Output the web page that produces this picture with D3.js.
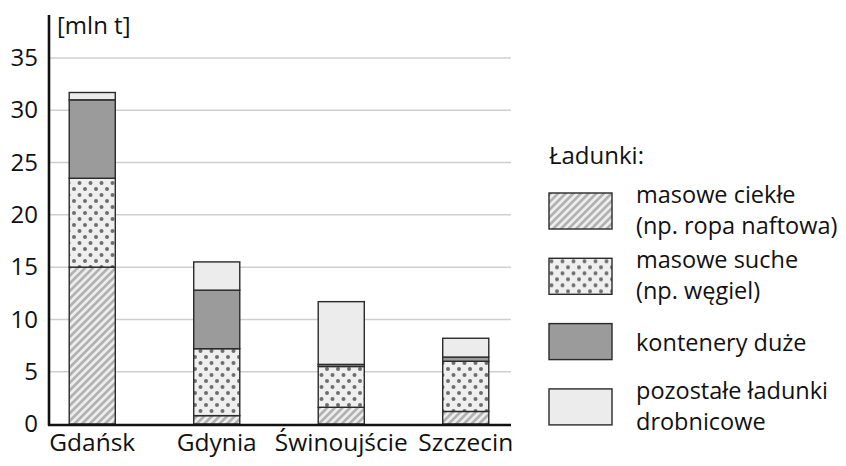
<!DOCTYPE html>
<html>
<head>
<meta http-equiv="Content-Type" content="text/html;charset=utf-8"/>
<script src="https://d3js.org/d3.v7.min.js"></script>
<style type="text/css">
body {
  margin: 0;
  background: #fff;
}
text {
  font-family: "Open Sans", sans-serif;
  fill: #111;
}
.grid line {
  stroke: #cfcfcf;
  stroke-width: 1.5px;
}
.seg {
  stroke: #2a2a2a;
  stroke-width: 1.4px;
}
</style>
</head>
<body>
<script>

var width = 846, height = 466;

// ports and cargo groups, values in mln t
var ports = ["Gdańsk", "Gdynia", "Świnoujście", "Szczecin"];
var cargo = ["ciekle", "suche", "kontenery", "pozostale"];
var ciekle    = [15.0, 0.8, 1.6, 1.2];
var suche     = [8.5, 6.4, 3.9, 4.8];
var kontenery = [7.5, 5.6, 0.2, 0.4];
var pozostale = [0.7, 2.7, 6.0, 1.8];
var yTicks = [0, 5, 10, 15, 20, 25, 30, 35];
var legendLines = [
  ["masowe ciekłe", "(np. ropa naftowa)"],
  ["masowe suche", "(np. węgiel)"],
  ["kontenery duże"],
  ["pozostałe ładunki", "drobnicowe"]
];

var rows = ports.map(function(p, i) {
  return {port: p, ciekle: ciekle[i], suche: suche[i], kontenery: kontenery[i], pozostale: pozostale[i]};
});

var svg = d3.select("body").append("svg")
    .attr("width", width)
    .attr("height", height);

var defs = svg.append("defs");

// hatched fill
var hatch = defs.append("pattern")
    .attr("id", "hatch")
    .attr("patternUnits", "userSpaceOnUse")
    .attr("width", 5.4)
    .attr("height", 5.4)
    .attr("patternTransform", "rotate(45)");
hatch.append("rect").attr("width", 5.4).attr("height", 5.4).attr("fill", "#ededed");
hatch.append("rect").attr("width", 2.6).attr("height", 5.4).attr("fill", "#b0b0b0");

// dotted fill
var dots = defs.append("pattern")
    .attr("id", "dots")
    .attr("patternUnits", "userSpaceOnUse")
    .attr("width", 11)
    .attr("height", 12);
dots.append("rect").attr("width", 11).attr("height", 12).attr("fill", "#efefef");
dots.append("circle").attr("cx", 2.5).attr("cy", 3).attr("r", 2).attr("fill", "#6e6e6e");
dots.append("circle").attr("cx", 8).attr("cy", 9).attr("r", 2).attr("fill", "#6e6e6e");

var fills = {
  ciekle: "url(#hatch)",
  suche: "url(#dots)",
  kontenery: "#9b9b9b",
  pozostale: "#ececec"
};

var x = d3.scaleBand()
    .domain(ports)
    .range([30, 528])
    .paddingInner(0.63)
    .paddingOuter(0.315);

var y = d3.scaleLinear()
    .domain([0, 35])
    .range([424, 58]);

// gridlines
svg.append("g")
    .attr("class", "grid")
    .selectAll("line")
    .data(yTicks.filter(function(d) { return d > 0; }))
    .enter().append("line")
    .attr("x1", 50)
    .attr("x2", 511)
    .attr("y1", function(d) { return y(d); })
    .attr("y2", function(d) { return y(d); });

// stacked bars
var stacked = d3.stack().keys(cargo)(rows);

svg.append("g")
    .selectAll("g")
    .data(stacked)
    .enter().append("g")
    .attr("fill", function(d) { return fills[d.key]; })
    .selectAll("rect")
    .data(function(d) { return d; })
    .enter().append("rect")
    .attr("class", "seg")
    .attr("x", function(d) { return x(d.data.port); })
    .attr("width", x.bandwidth())
    .attr("y", function(d) { return y(d[1]); })
    .attr("height", function(d) { return y(d[0]) - y(d[1]); });

// y axis
var yAxis = svg.append("g")
    .attr("transform", "translate(49,0)")
    .call(d3.axisLeft(y).tickValues(yTicks).tickSize(0).tickPadding(11));
yAxis.select(".domain").remove();
yAxis.selectAll("text")
    .style("font-size", "24px")
    .attr("fill", "#111");

svg.append("line")
    .attr("x1", 49).attr("x2", 49)
    .attr("y1", 15).attr("y2", 425.5)
    .attr("stroke", "#111")
    .attr("stroke-width", 2.6);

// x axis
var xAxis = svg.append("g")
    .attr("transform", "translate(0,425)")
    .call(d3.axisBottom(x).tickSize(0).tickPadding(9));
xAxis.select(".domain").remove();
xAxis.selectAll("text")
    .style("font-size", "24.5px")
    .attr("fill", "#111");

svg.append("line")
    .attr("x1", 48).attr("x2", 511)
    .attr("y1", 425).attr("y2", 425)
    .attr("stroke", "#111")
    .attr("stroke-width", 2.6);

svg.append("text")
    .attr("x", 57)
    .attr("y", 34)
    .style("font-size", "24px")
    .text("[mln t]");

// legend
var legend = svg.append("g").attr("transform", "translate(549,0)");

legend.append("text")
    .attr("x", 0)
    .attr("y", 164)
    .style("font-size", "24px")
    .text("Ładunki:");

var item = legend.selectAll(".item")
    .data(cargo)
    .enter().append("g")
    .attr("class", "item")
    .attr("transform", function(d, i) { return "translate(0," + (193 + i * 65.3) + ")"; });

item.append("rect")
    .attr("class", "seg")
    .attr("width", 63)
    .attr("height", 36)
    .attr("fill", function(d) { return fills[d]; });

item.each(function(d, i) {
  var lines = legendLines[i];
  var t = d3.select(this).append("text")
      .attr("x", 87)
      .attr("y", lines.length > 1 ? 10 : 27)
      .style("font-size", "23.5px");
  t.selectAll("tspan")
      .data(lines)
      .enter().append("tspan")
      .attr("x", 87)
      .attr("dy", function(l, j) { return j ? 31 : 0; })
      .text(function(l) { return l; });
});

</script>
</body>
</html>
